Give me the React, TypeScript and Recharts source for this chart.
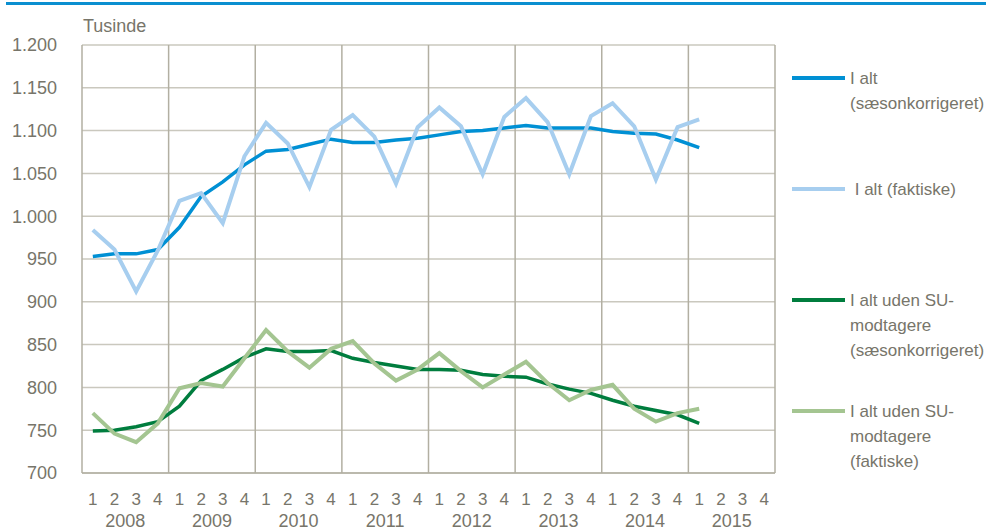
import { LineChart, Line, XAxis, YAxis, CartesianGrid, ReferenceLine } from "recharts";

const years = ["2008", "2009", "2010", "2011", "2012", "2013", "2014", "2015"];
const quarterLabels = ["1", "2", "3", "4"];
const yTicks = [700, 750, 800, 850, 900, 950, 1000, 1050, 1100, 1150, 1200];

// 2008K1 - 2015K1, tusinde personer
const ialtSa = [953, 956, 956, 961, 987, 1023, 1040, 1060, 1076, 1078, 1084, 1090, 1086, 1086, 1089, 1091, 1095, 1099, 1100, 1103, 1106, 1103, 1103, 1103, 1099, 1097, 1096, 1089, 1080];
const ialtFakt = [984, 961, 912, 960, 1018, 1027, 992, 1070, 1109, 1085, 1034, 1101, 1118, 1093, 1038, 1104, 1127, 1105, 1049, 1116, 1138, 1110, 1049, 1117, 1132, 1105, 1043, 1104, 1113];
const udenSuSa = [749, 750, 754, 760, 778, 808, 821, 835, 845, 842, 842, 843, 834, 829, 825, 821, 821, 820, 815, 813, 812, 804, 798, 793, 785, 778, 773, 768, 758];
const udenSuFakt = [770, 746, 736, 758, 799, 805, 801, 834, 867, 842, 823, 845, 854, 828, 808, 821, 840, 819, 800, 815, 830, 805, 785, 797, 803, 775, 760, 770, 775];

const FONT = "'Liberation Sans', Arial, sans-serif";
const TEXT = "#77756a";
const HGRID = "#cac8be";
const VGRID = "#b2afa2";

const series = [
  { key: "ialtSa", color: "#0090d4", width: 3.5, lines: ["I alt", "(sæsonkorrigeret)"] },
  { key: "ialtFakt", color: "#a7ceef", width: 4, lines: [" I alt (faktiske)"] },
  { key: "udenSuSa", color: "#007d3e", width: 3.5, lines: ["I alt uden SU-", "modtagere", "(sæsonkorrigeret)"] },
  { key: "udenSuFakt", color: "#a4c591", width: 4, lines: ["I alt uden SU-", "modtagere", "(faktiske)"] },
];
const legendTops = [78, 189, 300, 411];

const slots = years.length * 4;
const data = ialtSa.map((v, i) => ({
  x: i + 0.5,
  ialtSa: v,
  ialtFakt: ialtFakt[i],
  udenSuSa: udenSuSa[i],
  udenSuFakt: udenSuFakt[i],
}));
const quarterTicks = Array.from({ length: slots }, (_, i) => i + 0.5);
const yearTicks = years.map((_, i) => i * 4 + 2);
const yearBounds = years.map((_, i) => (i + 1) * 4);

const fmt = (v: number) =>
  v >= 1000 ? `${Math.floor(v / 1000)}.${String(v % 1000).padStart(3, "0")}` : String(v);

export default function App() {
  return (
    <div style={{ position: "relative", width: 988, height: 531, fontFamily: FONT, background: "#fff" }}>
      <style>{`body{margin:0}`}</style>
      <div style={{ position: "absolute", left: 6, top: 2, width: 980, height: 2.5, background: "#0a8fd0" }} />
      <div style={{ position: "absolute", left: 83, top: 15, fontSize: 18, color: TEXT, lineHeight: "22px" }}>
        Tusinde
      </div>

      <LineChart width={988} height={531} data={data} margin={{ top: 45, right: 213, left: 0, bottom: 0 }}>
        <CartesianGrid vertical={false} stroke={HGRID} strokeWidth={1.5} />
        <XAxis
          xAxisId="q"
          type="number"
          dataKey="x"
          domain={[0, slots]}
          ticks={quarterTicks}
          interval={0}
          tickFormatter={(v) => quarterLabels[Math.floor(v) % 4]}
          axisLine={{ stroke: VGRID, strokeWidth: 1.5 }}
          tickLine={false}
          tickSize={0}
          tickMargin={20}
          height={24}
          tick={{ fill: TEXT, fontSize: 17, fontFamily: FONT }}
        />
        <XAxis
          xAxisId="y"
          type="number"
          dataKey="x"
          domain={[0, slots]}
          ticks={yearTicks}
          interval={0}
          tickFormatter={(v) => years[Math.round((v - 2) / 4)]}
          axisLine={false}
          tickLine={false}
          tickSize={0}
          tickMargin={17}
          height={34}
          tick={{ fill: TEXT, fontSize: 18, fontFamily: FONT }}
        />
        <YAxis
          domain={[700, 1200]}
          ticks={yTicks}
          interval={0}
          width={82}
          tickFormatter={fmt}
          axisLine={{ stroke: VGRID, strokeWidth: 1.5 }}
          tickLine={false}
          tickSize={0}
          tickMargin={25}
          tick={{ fill: TEXT, fontSize: 18, fontFamily: FONT }}
        />
        {yearBounds.map((b) => (
          <ReferenceLine key={b} xAxisId="q" x={b} stroke={VGRID} strokeWidth={1.5} />
        ))}
        {series.map((s) => (
          <Line
            key={s.key}
            xAxisId="q"
            type="linear"
            dataKey={s.key}
            stroke={s.color}
            strokeWidth={s.width}
            dot={false}
            activeDot={false}
            isAnimationActive={false}
          />
        ))}
      </LineChart>

      {series.map((s, i) => (
        <div key={s.key}>
          <div
            style={{
              position: "absolute",
              left: 792,
              top: legendTops[i] - 2,
              width: 53,
              height: 4,
              background: s.color,
            }}
          />
          <div
            style={{
              position: "absolute",
              left: 850,
              top: legendTops[i] - 12.5,
              fontSize: 17,
              lineHeight: "25px",
              color: TEXT,
              whiteSpace: "pre",
            }}
          >
            {s.lines.map((l) => (
              <div key={l}>{l}</div>
            ))}
          </div>
        </div>
      ))}
    </div>
  );
}
